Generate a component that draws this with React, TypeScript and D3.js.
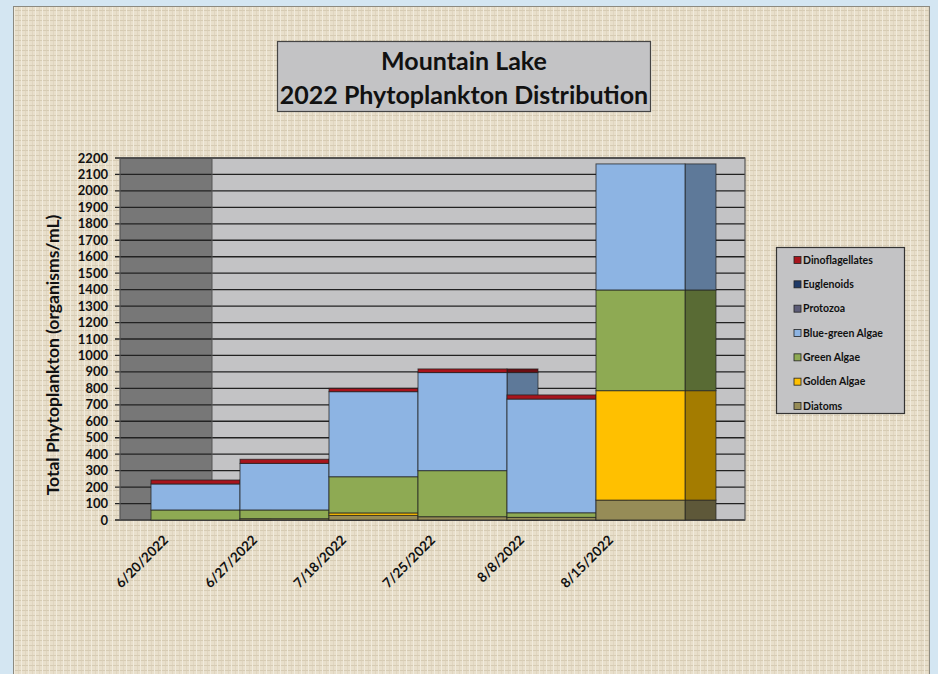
import React, { useEffect, useRef } from 'react';
import * as d3 from 'd3';

// sample dates (x categories)
const dates = ['6/20/2022', '6/27/2022', '7/18/2022', '7/25/2022', '8/8/2022', '8/15/2022'];

// organisms/mL per group
const diatoms = [0, 8, 28, 20, 16, 121];
const goldenAlgae = [0, 0, 15, 0, 0, 665];
const greenAlgae = [61, 53, 220, 280, 28, 612];
const blueGreenAlgae = [158, 283, 517, 596, 691, 766];
const protozoa = [0, 0, 0, 0, 0, 0];
const euglenoids = [0, 0, 0, 0, 0, 0];
const dinoflagellates = [24, 25, 20, 22, 25, 0];

const seriesNames = ['Diatoms', 'Golden Algae', 'Green Algae', 'Blue-green Algae', 'Protozoa', 'Euglenoids', 'Dinoflagellates'];
const seriesValues = [diatoms, goldenAlgae, greenAlgae, blueGreenAlgae, protozoa, euglenoids, dinoflagellates];
const yTicks = d3.range(0, 2201, 100);

const frontColors: Record<string, string> = {
    'Diatoms': '#968c57',
    'Golden Algae': '#ffc000',
    'Green Algae': '#8eaa53',
    'Blue-green Algae': '#8db4e3',
    'Protozoa': '#5c5c78',
    'Euglenoids': '#1f3a68',
    'Dinoflagellates': '#a8141c',
};
const sideColors: Record<string, string> = {
    'Diatoms': '#5e5839',
    'Golden Algae': '#a47c00',
    'Green Algae': '#596b34',
    'Blue-green Algae': '#5e7999',
    'Protozoa': '#3a3a4c',
    'Euglenoids': '#142644',
    'Dinoflagellates': '#6a0d12',
};

export default function App() {
    const svgWidth = 938;
    const svgHeight = 674;
    const wallLeft = 120;
    const backLeft = 212;
    const wallRight = 745;
    const plotTop = 158;
    const plotBottom = 520;
    const depth = 31;
    const font = 'Lato, "Open Sans", sans-serif';

    const svgRef = useRef<SVGSVGElement>(null);

    useEffect(() => {
        const svg = d3.select(svgRef.current);
        svg.selectAll('*').remove();

        const rows = dates.map((d, i) => {
            const row: any = { date: d };
            seriesNames.forEach((s, k) => { row[s] = seriesValues[k][i]; });
            return row;
        });
        const stacked = d3.stack().keys(seriesNames)(rows);

        const xScale = d3.scaleBand().domain(dates).range([151, 685]).padding(0);
        const yScale = d3.scaleLinear().domain([0, 2200]).range([plotBottom, plotTop]);
        const bw = xScale.bandwidth();

        // linen texture background
        const defs = svg.append('defs');
        const pat = defs.append('pattern').attr('id', 'linen').attr('patternUnits', 'userSpaceOnUse')
            .attr('width', 7).attr('height', 5);
        pat.append('rect').attr('width', 7).attr('height', 5).attr('fill', '#e8dfcb');
        pat.append('line').attr('x1', 0).attr('x2', 7).attr('y1', 0.5).attr('y2', 0.5)
            .attr('stroke', '#d6cbb3').attr('stroke-width', 1);
        pat.append('line').attr('x1', 0.5).attr('x2', 0.5).attr('y1', 0).attr('y2', 5)
            .attr('stroke', '#f1ebdd').attr('stroke-width', 1);
        pat.append('line').attr('x1', 4.5).attr('x2', 4.5).attr('y1', 0).attr('y2', 5)
            .attr('stroke', '#dacfb8').attr('stroke-width', 0.6);

        svg.append('rect').attr('width', svgWidth).attr('height', svgHeight).attr('fill', '#d4e6f2');
        svg.append('rect').attr('x', 13.5).attr('y', 6.5).attr('width', 916).attr('height', 700)
            .attr('fill', 'url(#linen)').attr('stroke', '#8c8a80');

        // walls
        svg.append('rect').attr('x', wallLeft).attr('y', plotTop).attr('width', backLeft - wallLeft)
            .attr('height', plotBottom - plotTop).attr('fill', '#777777');
        svg.append('rect').attr('x', backLeft).attr('y', plotTop).attr('width', wallRight - backLeft)
            .attr('height', plotBottom - plotTop).attr('fill', '#c3c3c5');

        // gridlines + ticks
        svg.append('g').selectAll('line').data(yTicks).join('line')
            .attr('x1', 115).attr('x2', wallRight)
            .attr('y1', d => yScale(d)).attr('y2', d => yScale(d))
            .attr('stroke', '#222').attr('stroke-width', 1.3);

        svg.append('rect').attr('x', wallLeft).attr('y', plotTop).attr('width', wallRight - wallLeft)
            .attr('height', plotBottom - plotTop).attr('fill', 'none').attr('stroke', '#555').attr('stroke-width', 1.2);
        svg.append('line').attr('x1', backLeft).attr('x2', backLeft).attr('y1', plotTop).attr('y2', plotBottom)
            .attr('stroke', '#555').attr('stroke-width', 1);

        svg.append('g').selectAll('text').data(yTicks).join('text')
            .attr('x', 108).attr('y', d => yScale(d)).attr('dy', '0.35em')
            .attr('text-anchor', 'end').attr('font-family', font).attr('font-weight', 700)
            .attr('font-size', 13).attr('fill', '#111').text(d => d);

        // bars: side face then front, left to right so the next front hides the side
        dates.forEach((d, i) => {
            const g = svg.append('g');
            stacked.forEach(layer => {
                const v = layer[i];
                if (v[1] - v[0] <= 0) return;
                g.append('rect')
                    .attr('x', (xScale(d) as number) + bw).attr('width', depth)
                    .attr('y', yScale(v[1])).attr('height', yScale(v[0]) - yScale(v[1]))
                    .attr('fill', sideColors[layer.key]).attr('stroke', '#222').attr('stroke-opacity', 0.7);
            });
            stacked.forEach(layer => {
                const v = layer[i];
                if (v[1] - v[0] <= 0) return;
                g.append('rect')
                    .attr('x', xScale(d) as number).attr('width', bw)
                    .attr('y', yScale(v[1])).attr('height', yScale(v[0]) - yScale(v[1]))
                    .attr('fill', frontColors[layer.key]).attr('stroke', '#222').attr('stroke-opacity', 0.75);
            });
        });

        // x labels, slanted 45 degrees
        const labels = svg.append('g').selectAll('g').data(dates).join('g')
            .attr('transform', d => `translate(${(xScale(d) as number) + 18},541)`);
        labels.append('text')
            .attr('transform', 'rotate(-45)')
            .attr('text-anchor', 'end').attr('font-family', font).attr('font-weight', 700)
            .attr('font-size', 13.5).attr('fill', '#111').text(d => d);

        // y title
        svg.append('text').attr('transform', `translate(59,355) rotate(-90)`)
            .attr('text-anchor', 'middle').attr('font-family', font).attr('font-weight', 700)
            .attr('font-size', 17.5).attr('fill', '#111').text('Total Phytoplankton (organisms/mL)');

        // title box
        svg.append('rect').attr('x', 277.5).attr('y', 41.5).attr('width', 373).attr('height', 70)
            .attr('fill', '#c3c3c5').attr('stroke', '#444').attr('stroke-width', 1.2);
        svg.append('text').attr('x', 464).attr('y', 70).attr('text-anchor', 'middle')
            .attr('font-family', font).attr('font-weight', 700).attr('font-size', 25).attr('fill', '#111')
            .text('Mountain Lake');
        svg.append('text').attr('x', 464).attr('y', 104).attr('text-anchor', 'middle')
            .attr('font-family', font).attr('font-weight', 700).attr('font-size', 25).attr('fill', '#111')
            .text('2022 Phytoplankton Distribution');

        // legend
        const legendNames = seriesNames.slice().reverse();
        const legendY = d3.scalePoint().domain(legendNames).range([260, 406]);
        svg.append('rect').attr('x', 776.5).attr('y', 247.5).attr('width', 128).attr('height', 166)
            .attr('fill', '#c3c3c5').attr('stroke', '#333').attr('stroke-width', 1.2);
        const items = svg.append('g').selectAll('g').data(legendNames).join('g')
            .attr('transform', d => `translate(794,${legendY(d)})`);
        items.append('rect').attr('x', 0).attr('y', -3.5).attr('width', 7).attr('height', 7)
            .attr('fill', d => frontColors[d]).attr('stroke', '#222').attr('stroke-width', 0.8);
        items.append('text').attr('x', 9).attr('dy', '0.35em').attr('font-family', font)
            .attr('font-weight', 700).attr('font-size', 10.5).attr('fill', '#111').text(d => d);
    }, []);

    return (
        <svg width={svgWidth} height={svgHeight} ref={svgRef}
            style={{ position: 'absolute', left: 0, top: 0, display: 'block' }} />
    );
}
